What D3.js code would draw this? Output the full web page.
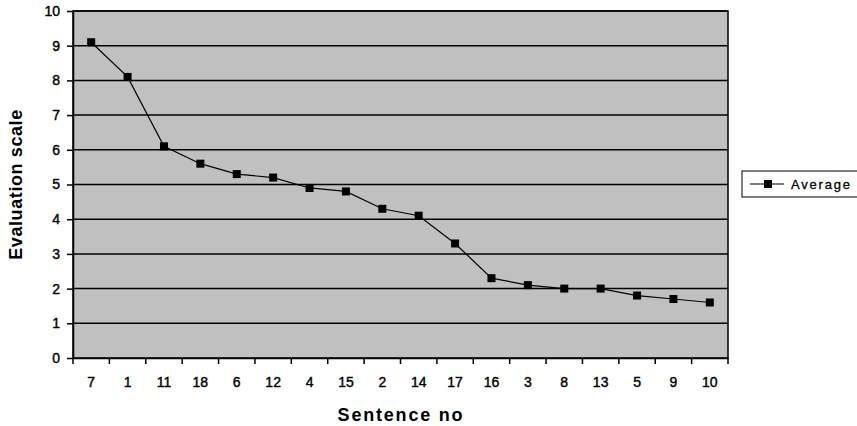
<!DOCTYPE html>
<html>
<head>
<meta charset="utf-8">
<script src="https://cdn.jsdelivr.net/npm/d3@7"></script>
<style>
  body { margin: 0; background: #fff; }
  text { font-family: "Liberation Sans", Arial, sans-serif; fill: #000; }
</style>
</head>
<body>
<div id="chart"></div>
<script>
const sentences = ["7", "1", "11", "18", "6", "12", "4", "15", "2", "14", "17", "16", "3", "8", "13", "5", "9", "10"];
const averages = [9.1, 8.1, 6.1, 5.6, 5.3, 5.2, 4.9, 4.8, 4.3, 4.1, 3.3, 2.3, 2.1, 2.0, 2.0, 1.8, 1.7, 1.6];
const yTicks = [0, 1, 2, 3, 4, 5, 6, 7, 8, 9, 10];
const seriesName = "Average";

const width = 857, height = 426;
const plot = { left: 73, right: 728, top: 11, bottom: 358 };

const svg = d3.select("#chart").append("svg")
    .attr("width", width)
    .attr("height", height);

const x = d3.scaleBand()
    .domain(sentences)
    .range([plot.left, plot.right]);

const y = d3.scaleLinear()
    .domain([0, 10])
    .range([plot.bottom, plot.top]);

// grey plot background
svg.append("rect")
    .attr("x", plot.left)
    .attr("y", plot.top)
    .attr("width", plot.right - plot.left)
    .attr("height", plot.bottom - plot.top)
    .attr("fill", "#c0c0c0")
    .attr("stroke", "#000")
    .attr("stroke-width", 1.5);

// gridlines
svg.selectAll("line.grid")
    .data(yTicks.filter(d => d > 0))
    .enter().append("line")
    .attr("class", "grid")
    .attr("x1", plot.left)
    .attr("x2", plot.right)
    .attr("y1", d => y(d))
    .attr("y2", d => y(d))
    .attr("stroke", "#000")
    .attr("stroke-width", 1.5);

// y axis
const yAxis = svg.append("g")
    .attr("transform", `translate(${plot.left},0)`)
    .call(d3.axisLeft(y).tickValues(yTicks).tickSize(6).tickPadding(7).tickSizeOuter(0));
yAxis.select(".domain").attr("stroke-width", 1.5);
yAxis.selectAll(".tick line").attr("stroke-width", 1.5);
yAxis.selectAll("text")
    .style("font-size", "14px")
    .style("font-family", "Liberation Sans, Arial, sans-serif")
    .attr("stroke", "#000")
    .attr("stroke-width", 0.4);

// x axis: ticks at category boundaries
const xAxis = svg.append("g")
    .attr("transform", `translate(0,${plot.bottom})`)
    .call(d3.axisBottom(x).tickSize(0).tickPadding(19));
xAxis.select(".domain").attr("stroke-width", 1.5);
xAxis.selectAll("text")
    .style("font-size", "14px")
    .style("font-family", "Liberation Sans, Arial, sans-serif")
    .attr("stroke", "#000")
    .attr("stroke-width", 0.4);

svg.selectAll("line.xtick")
    .data(sentences.map((d, i) => i).concat([sentences.length]))
    .enter().append("line")
    .attr("class", "xtick")
    .attr("x1", i => plot.left + i * x.step())
    .attr("x2", i => plot.left + i * x.step())
    .attr("y1", plot.bottom)
    .attr("y2", plot.bottom + 6)
    .attr("stroke", "#000")
    .attr("stroke-width", 1.5);

// line and markers
const line = d3.line()
    .x((d, i) => x(sentences[i]) + x.bandwidth() / 2)
    .y(d => y(d));

svg.append("path")
    .datum(averages)
    .attr("d", line)
    .attr("fill", "none")
    .attr("stroke", "#000")
    .attr("stroke-width", 1.2);

svg.selectAll("rect.marker")
    .data(averages)
    .enter().append("rect")
    .attr("class", "marker")
    .attr("x", (d, i) => x(sentences[i]) + x.bandwidth() / 2 - 4)
    .attr("y", d => y(d) - 4)
    .attr("width", 8)
    .attr("height", 8)
    .attr("fill", "#000");

// axis titles
svg.append("text")
    .attr("transform", `translate(22,${(plot.top + plot.bottom) / 2}) rotate(-90)`)
    .attr("text-anchor", "middle")
    .style("font-size", "18px")
    .style("font-weight", "bold")
    .style("letter-spacing", "0.6px")
    .text("Evaluation scale");

svg.append("text")
    .attr("x", 401)
    .attr("y", 421)
    .attr("text-anchor", "middle")
    .style("font-size", "18px")
    .style("font-weight", "bold")
    .style("letter-spacing", "1.8px")
    .text("Sentence no");

// legend
const legend = svg.append("g").attr("transform", "translate(742,171)");
legend.append("rect")
    .attr("width", 120)
    .attr("height", 26)
    .attr("fill", "#fff")
    .attr("stroke", "#000")
    .attr("stroke-width", 1);
legend.append("line")
    .attr("x1", 8).attr("x2", 42)
    .attr("y1", 13).attr("y2", 13)
    .attr("stroke", "#000").attr("stroke-width", 1.2);
legend.append("rect")
    .attr("x", 22).attr("y", 9)
    .attr("width", 8).attr("height", 8)
    .attr("fill", "#000");
legend.append("text")
    .attr("x", 49)
    .attr("y", 18)
    .style("font-size", "13px")
    .style("letter-spacing", "1.8px")
    .attr("stroke", "#000")
    .attr("stroke-width", 0.3)
    .text(seriesName);
</script>
</body>
</html>
